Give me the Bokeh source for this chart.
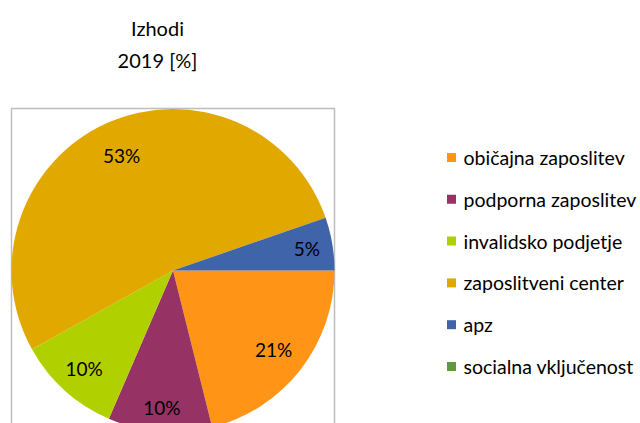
import math
from bokeh.plotting import figure
from bokeh.models import Range1d, ColumnDataSource
from bokeh.core.properties import value
from bokeh.embed import file_html
from bokeh.resources import INLINE

# ---- data ----
categories = ["običajna zaposlitev", "podporna zaposlitev", "invalidsko podjetje",
              "zaposlitveni center", "apz", "socialna vključenost"]
shares = [21.1, 10.4, 10.4, 52.8, 5.3, 0.0]
colors = ["#FF9416", "#963264", "#B0D000", "#E1A800", "#3F64AA", "#5E9B3E"]
title_lines = ["Izhodi", "2019 [%]"]

W, H = 640, 423
FONT = "Lato"

p = figure(width=W, height=H, output_backend="svg", toolbar_location=None,
           x_range=Range1d(0, W), y_range=Range1d(0, H), min_border=0)
p.axis.visible = False
p.grid.visible = False
p.outline_line_color = None
p.background_fill_color = "white"
p.border_fill_color = "white"

def Y(py):
    return H - py

# chart box
bx0, bx1, by0 = 11, 334, 108
p.line(x=[bx0, bx0, bx1, bx1], y=[Y(440), Y(by0), Y(by0), Y(440)],
       line_color="#BDBDBD", line_width=1.5)

# pie
cx, cy, R = 172.5, Y(270), 161.5
label_r = [0.79, 0.85, 0.82, 0.78, 0.84, 0.8]  # layout: label distance factors
total = sum(shares)
starts, ends, lx, ly, labels, cols = [], [], [], [], [], []
cum = 0.0
for i, (s, c) in enumerate(zip(shares, colors)):
    if s <= 0:
        cum += s
        continue
    a0 = -2 * math.pi * (cum + s) / total
    a1 = -2 * math.pi * cum / total
    m = (a0 + a1) / 2
    starts.append(a0)
    ends.append(a1)
    lx.append(cx + label_r[i] * R * math.cos(m))
    ly.append(cy + label_r[i] * R * math.sin(m))
    labels.append(f"{round(s / total * 100)}%")
    cols.append(c)
    cum += s

src = ColumnDataSource(dict(start=starts, end=ends, color=cols))
p.wedge(x=cx, y=cy, radius=R, start_angle="start", end_angle="end",
        fill_color="color", line_color=None, source=src)

# data labels
p.text(x=lx, y=ly, text=labels, text_align="center", text_baseline="middle",
       text_font=value(FONT), text_font_size="19px", text_color="#000000")

# title
p.text(x=[157, 157], y=[Y(27), Y(59)], text=title_lines, text_align="center",
       text_baseline="middle", text_font=value(FONT), text_font_size="20px",
       text_color="#000000")

# legend
leg_y0, leg_dy = 157, 41.8
ly_leg = [Y(leg_y0 + i * leg_dy) for i in range(len(categories))]
p.rect(x=[451] * len(categories), y=ly_leg, width=9, height=9,
       fill_color=colors, line_color=None)
p.text(x=[463] * len(categories), y=ly_leg, text=categories, text_align="left",
       text_baseline="middle", text_font=value(FONT), text_font_size="19.5px",
       text_color="#000000")

open("out.html", "w").write(file_html(p, INLINE))
